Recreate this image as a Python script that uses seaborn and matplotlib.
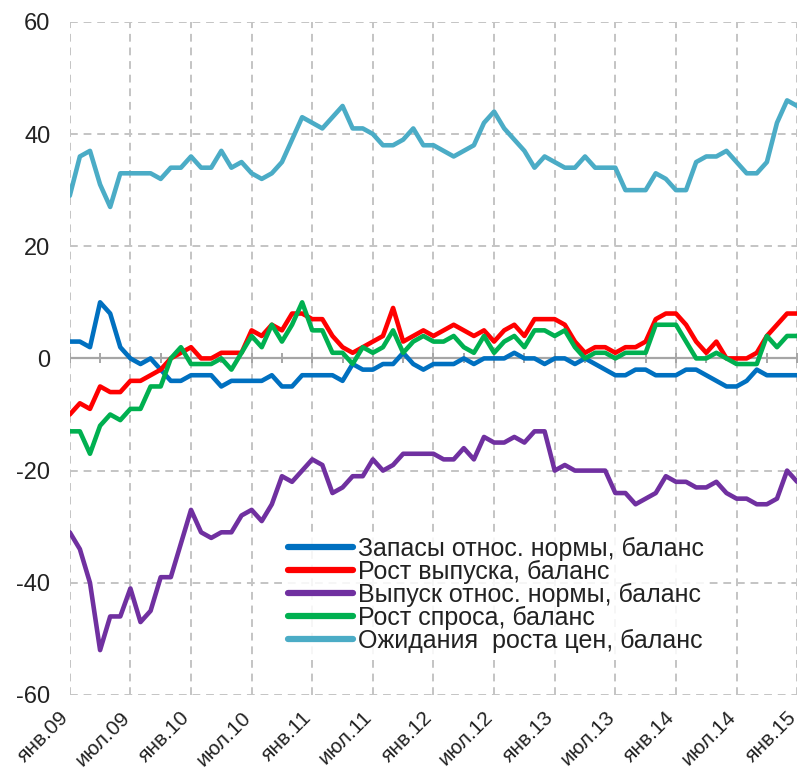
import numpy as np
import pandas as pd
import matplotlib.pyplot as plt
import matplotlib.transforms as mtransforms
import seaborn as sns

# monthly survey balances, jan.09 .. jan.15 (73 months)
stocks = [3, 3, 2, 10, 8, 2, 0, -1, 0, -2, -4, -4, -3, -3, -3, -5, -4, -4, -4, -4,
          -3, -5, -5, -3, -3, -3, -3, -4, -1, -2, -2, -1, -1, 1, -1, -2, -1, -1, -1, 0,
          -1, 0, 0, 0, 1, 0, 0, -1, 0, 0, -1, 0, -1, -2, -3, -3, -2, -2, -3, -3,
          -3, -2, -2, -3, -4, -5, -5, -4, -2, -3, -3, -3, -3]
output_growth = [-10, -8, -9, -5, -6, -6, -4, -4, -3, -2, 0, 1, 2, 0, 0, 1, 1, 1, 5, 4,
                 6, 5, 8, 8, 7, 7, 4, 2, 1, 2, 3, 4, 9, 3, 4, 5, 4, 5, 6, 5,
                 4, 5, 3, 5, 6, 4, 7, 7, 7, 6, 3, 1, 2, 2, 1, 2, 2, 3, 7, 8,
                 8, 6, 3, 1, 3, 0, 0, 0, 1, 4, 6, 8, 8]
output_level = [-31, -34, -40, -52, -46, -46, -41, -47, -45, -39, -39, -33, -27, -31, -32, -31, -31, -28, -27, -29,
                -26, -21, -22, -20, -18, -19, -24, -23, -21, -21, -18, -20, -19, -17, -17, -17, -17, -18, -18, -16,
                -18, -14, -15, -15, -14, -15, -13, -13, -20, -19, -20, -20, -20, -20, -24, -24, -26, -25, -24, -21,
                -22, -22, -23, -23, -22, -24, -25, -25, -26, -26, -25, -20, -22]
demand_growth = [-13, -13, -17, -12, -10, -11, -9, -9, -5, -5, 0, 2, -1, -1, -1, 0, -2, 1, 4, 2,
                 6, 3, 6, 10, 5, 5, 1, 1, -1, 2, 1, 2, 5, 1, 3, 4, 3, 3, 4, 2,
                 1, 4, 1, 3, 4, 2, 5, 5, 4, 5, 2, 0, 1, 1, 0, 1, 1, 1, 6, 6,
                 6, 3, 0, 0, 1, 0, -1, -1, -1, 4, 2, 4, 4]
price_expect = [29, 36, 37, 31, 27, 33, 33, 33, 33, 32, 34, 34, 36, 34, 34, 37, 34, 35, 33, 32,
                33, 35, 39, 43, 42, 41, 43, 45, 41, 41, 40, 38, 38, 39, 41, 38, 38, 37, 36, 37,
                38, 42, 44, 41, 39, 37, 34, 36, 35, 34, 34, 36, 34, 34, 34, 30, 30, 30, 33, 32,
                30, 30, 35, 36, 36, 37, 35, 33, 33, 35, 42, 46, 45]

series_names = ["Запасы относ. нормы, баланс",
                "Рост выпуска, баланс",
                "Выпуск относ. нормы, баланс",
                "Рост спроса, баланс",
                "Ожидания  роста цен, баланс"]
series_colors = ["#0070C0", "#FF0000", "#7030A0", "#00B050", "#4BACC6"]

tick_labels = ["янв.09", "июл.09", "янв.10", "июл.10", "янв.11", "июл.11", "янв.12",
               "июл.12", "янв.13", "июл.13", "янв.14", "июл.14", "янв.15"]

months = np.arange(len(stocks))
df = pd.concat([
    pd.DataFrame({"month": months, "value": vals, "series": name})
    for name, vals in zip(series_names,
                          [stocks, output_growth, output_level, demand_growth, price_expect])
])

sns.set_theme(style="white")
plt.rcParams["font.family"] = ["Liberation Sans", "DejaVu Sans"]
plt.rcParams["axes.unicode_minus"] = False

fig = plt.figure(figsize=(8.02, 7.80), dpi=100)
ax = fig.add_axes([0.087, 0.109, 0.907, 0.863])

# grid first so the lines sit on top
grid_kw = dict(color="#C4C4C4", lw=1.4, ls=(0, (4, 3)), zorder=0)
for x in range(0, 73, 6):
    ax.axvline(x, **grid_kw)
for y in [-60, -40, -20, 20, 40, 60]:
    ax.axhline(y, **grid_kw)
ax.axhline(0, color="#A6A6A6", lw=1.6, zorder=1)
ax.plot(months[::3], np.zeros(len(months[::3])), ls="none", marker="|",
        ms=7, mew=1.4, color="#A6A6A6", zorder=1)

sns.lineplot(data=df, x="month", y="value", hue="series", hue_order=series_names,
             palette=series_colors, lw=3.3, ax=ax, legend=False, zorder=3)

ax.set_xlim(0, 72)
ax.set_ylim(-60, 60)
ax.set_yticks(range(-60, 61, 20))
ax.set_xticks(range(0, 73, 6))
ax.set_xticklabels(tick_labels, rotation=45, ha="right", va="center",
                   rotation_mode="anchor")
ax.tick_params(axis="y", labelsize=17, labelcolor="#222222", pad=14, length=0)
ax.tick_params(axis="x", labelsize=15, labelcolor="#222222", pad=14, length=0)
shift = mtransforms.ScaledTranslation(-4 / 100, 0, fig.dpi_scale_trans)
for lab in ax.get_xticklabels():
    lab.set_transform(lab.get_transform() + shift)
ax.set_xlabel("")
ax.set_ylabel("")
for s in ax.spines.values():
    s.set_visible(False)

handles = [plt.Line2D([], [], color=c, lw=4.5) for c in series_colors]
leg = ax.legend(handles, series_names, loc="lower left", bbox_to_anchor=(0.279, 0.04),
                fontsize=18, frameon=True, facecolor="white", edgecolor="none",
                framealpha=0.85, handlelength=2.6, handletextpad=0.2,
                labelspacing=-0.04, borderpad=0.1)
for t in leg.get_texts():
    t.set_color("#222222")

fig.savefig("out.png", dpi=100)
